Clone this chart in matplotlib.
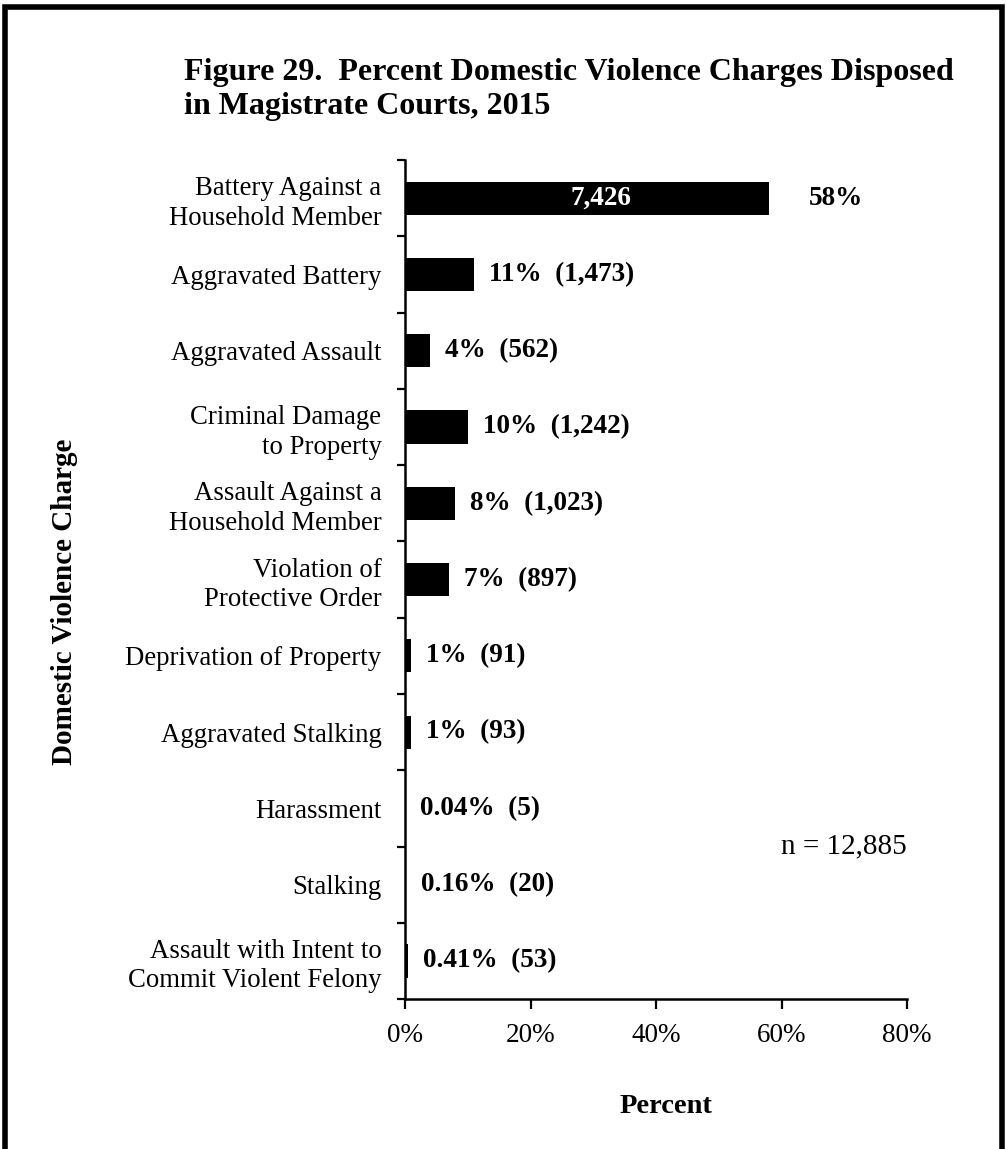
import matplotlib
matplotlib.use("Agg")
import matplotlib.pyplot as plt
from matplotlib.patches import Rectangle
import numpy as np

categories = [
    "Battery Against a\nHousehold Member",
    "Aggravated Battery",
    "Aggravated Assault",
    "Criminal Damage\nto Property",
    "Assault Against a\nHousehold Member",
    "Violation of\nProtective Order",
    "Deprivation of Property",
    "Aggravated Stalking",
    "Harassment",
    "Stalking",
    "Assault with Intent to\nCommit Violent Felony",
]
percent = [58, 11, 4, 10, 8, 7, 1, 1, 0.04, 0.16, 0.41]
counts = [7426, 1473, 562, 1242, 1023, 897, 91, 93, 5, 20, 53]
pct_labels = ["58%", "11%", "4%", "10%", "8%", "7%", "1%", "1%", "0.04%", "0.16%", "0.41%"]
xticks = [0, 20, 40, 60, 80]
xtick_labels = ["0%", "20%", "40%", "60%", "80%"]
total_n = "n = 12,885"

plt.rcParams['font.family'] = ['Liberation Serif', 'DejaVu Serif']

fig = plt.figure(figsize=(10.06, 11.49), dpi=100)
ax = fig.add_axes([0.4026, 0.1305, 0.499, 0.7302])

y = np.arange(len(categories))
ax.barh(y, percent, height=0.435, color='black')
ax.set_ylim(len(categories) - 0.5, -0.5)
ax.set_xlim(0, 80)

ax.set_yticks(y)
ax.set_yticklabels(categories, fontsize=19.3, linespacing=1.24)
ax.tick_params(axis='y', which='major', length=0, pad=17)
ax.set_yticks(np.arange(-0.5, len(categories), 1), minor=True)
ax.tick_params(axis='y', which='minor', length=6, width=1.6, direction='out')

ax.set_xticks(xticks)
ax.set_xticklabels(xtick_labels, fontsize=19.5)
ax.tick_params(axis='x', length=7, width=1.6, direction='out', pad=10)

for s in ['top', 'right']:
    ax.spines[s].set_visible(False)
for s in ['left', 'bottom']:
    ax.spines[s].set_linewidth(1.8)

for i, (p, c, lab) in enumerate(zip(percent, counts, pct_labels)):
    if i == 0:
        ax.text(p / 2 + 2.2, i, f"{c:,}", color='white', fontsize=19.5, fontweight='bold',
                ha='center', va='center')
        ax.text(p + 6.4, i, lab, color='black', fontsize=19.5, fontweight='bold',
                ha='left', va='center')
    else:
        ax.text(p + 2.4, i, f"{lab}  ({c:,})", color='black', fontsize=19.5, fontweight='bold',
                ha='left', va='center')

ax.text(1.0, 8.5, total_n, fontsize=21, ha='right', va='center',
        transform=ax.get_yaxis_transform())

fig.text(0.662, 0.0366, "Percent", fontsize=20.5, fontweight='bold',
         ha='center', va='center')
fig.text(0.064, 0.476, "Domestic Violence Charge", rotation=90, fontsize=21,
         fontweight='bold', ha='center', va='center')

fig.text(0.183, 0.922, "Figure 29.  Percent Domestic Violence Charges Disposed\nin Magistrate Courts, 2015",
         fontsize=23, fontweight='bold', ha='left', va='center', linespacing=1.22)

border = Rectangle((0.0045, -0.05), 0.992, 1.044, transform=fig.transFigure,
                   fill=False, edgecolor='black', linewidth=4, clip_on=False)
fig.patches.append(border)

fig.savefig("out.png", dpi=100)
